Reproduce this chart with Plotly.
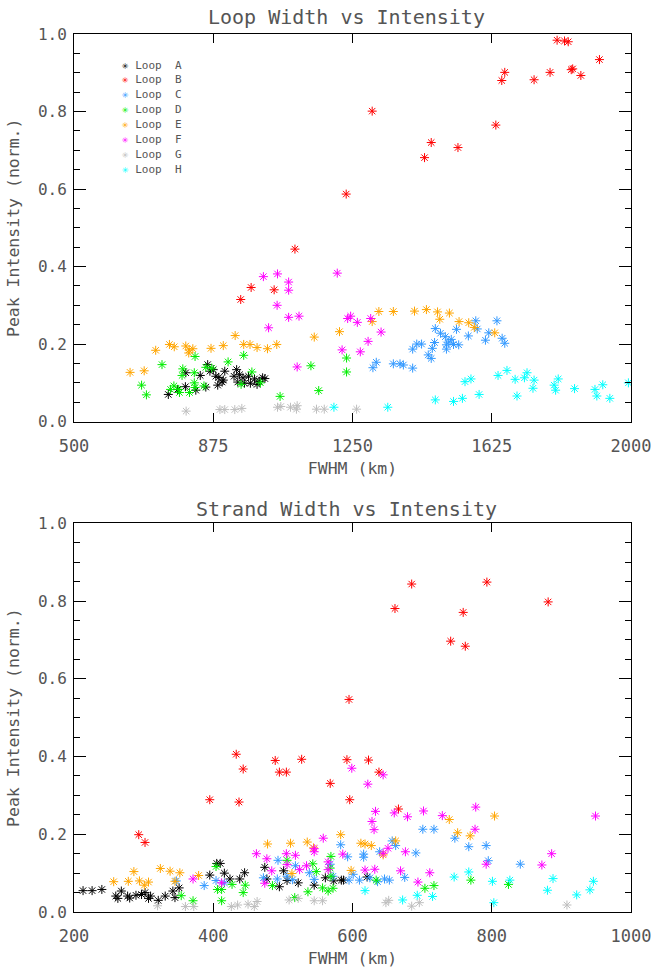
import plotly.graph_objects as go

loops = ["A", "B", "C", "D", "E", "F", "G", "H"]
colors = ["#000000", "#ff0000", "#3399ff", "#00ee00", "#ffa500", "#ff00ff", "#bebebe", "#00ffff"]

# ---- Top panel: Loop width (FWHM, km) vs peak intensity ----
loop_x = {
    "A": [754, 779, 800, 801, 828, 840, 855, 860, 866, 875, 882, 887, 890, 899, 902, 906, 931, 938, 941, 946, 955, 959, 970, 975, 986, 993, 999, 1008, 1014],
    "B": [949, 977, 1039, 1095, 1233, 1303, 1444, 1462, 1534, 1636, 1652, 1660, 1739, 1782, 1801, 1821, 1831, 1839, 1843, 1865, 1915],
    "C": [1305, 1314, 1360, 1378, 1387, 1412, 1412, 1423, 1436, 1454, 1462, 1465, 1471, 1473, 1487, 1500, 1503, 1503, 1509, 1516, 1522, 1530, 1536, 1562, 1582, 1586, 1608, 1617, 1639, 1653, 1660],
    "D": [682, 695, 737, 760, 769, 782, 784, 793, 791, 811, 824, 826, 824, 826, 850, 855, 871, 915, 957, 950, 979, 1002, 1055, 1138, 1159, 1234, 1234],
    "E": [651, 689, 720, 757, 770, 801, 820, 809, 810, 869, 902, 934, 957, 974, 993, 1021, 1046, 1147, 1215, 1303, 1321, 1360, 1417, 1449, 1479, 1485, 1511, 1537, 1563, 1578, 1633],
    "F": [1010, 1048, 1078, 1078, 1047, 1078, 1106, 1024, 1209, 1101, 1222, 1237, 1245, 1263, 1299, 1327, 1292, 1271],
    "G": [802, 893, 906, 933, 952, 1048, 1057, 1083, 1099, 1101, 1153, 1174, 1261],
    "H": [1200, 1345, 1473, 1522, 1546, 1553, 1569, 1591, 1642, 1666, 1688, 1693, 1713, 1720, 1739, 1736, 1793, 1797, 1804, 1848, 1903, 1908, 1924, 1943, 1993],
}
loop_y = {
    "A": [0.070, 0.083, 0.090, 0.126, 0.081, 0.119, 0.089, 0.147, 0.130, 0.134, 0.117, 0.094, 0.114, 0.102, 0.107, 0.130, 0.117, 0.134, 0.102, 0.121, 0.113, 0.099, 0.117, 0.099, 0.110, 0.096, 0.104, 0.113, 0.111],
    "B": [0.315, 0.346, 0.340, 0.445, 0.587, 0.801, 0.681, 0.720, 0.707, 0.765, 0.880, 0.901, 0.882, 0.901, 0.984, 0.982, 0.980, 0.908, 0.910, 0.893, 0.934],
    "C": [0.139, 0.153, 0.149, 0.149, 0.146, 0.138, 0.187, 0.200, 0.200, 0.172, 0.163, 0.189, 0.204, 0.240, 0.228, 0.219, 0.198, 0.187, 0.205, 0.212, 0.199, 0.238, 0.198, 0.221, 0.260, 0.239, 0.210, 0.229, 0.260, 0.215, 0.202],
    "D": [0.094, 0.069, 0.147, 0.083, 0.092, 0.083, 0.075, 0.136, 0.119, 0.075, 0.126, 0.168, 0.100, 0.088, 0.092, 0.140, 0.138, 0.154, 0.171, 0.096, 0.128, 0.100, 0.065, 0.144, 0.080, 0.164, 0.128],
    "E": [0.127, 0.131, 0.184, 0.199, 0.193, 0.195, 0.188, 0.177, 0.185, 0.189, 0.196, 0.222, 0.199, 0.199, 0.191, 0.188, 0.199, 0.218, 0.232, 0.258, 0.284, 0.284, 0.285, 0.289, 0.283, 0.264, 0.280, 0.258, 0.255, 0.243, 0.229],
    "F": [0.374, 0.381, 0.360, 0.339, 0.300, 0.269, 0.272, 0.242, 0.383, 0.141, 0.185, 0.266, 0.272, 0.256, 0.266, 0.231, 0.207, 0.180],
    "G": [0.027, 0.031, 0.031, 0.031, 0.034, 0.037, 0.039, 0.037, 0.032, 0.041, 0.032, 0.032, 0.032],
    "H": [0.037, 0.037, 0.056, 0.052, 0.060, 0.103, 0.110, 0.070, 0.119, 0.132, 0.109, 0.066, 0.113, 0.126, 0.107, 0.086, 0.094, 0.081, 0.110, 0.085, 0.083, 0.066, 0.095, 0.060, 0.100],
}

# ---- Bottom panel: Strand width (FWHM, km) vs peak intensity ----
strand_x = {
    "A": [213, 226, 240, 260, 263, 268, 277, 280, 289, 297, 302, 310, 307, 321, 331, 342, 351, 345, 395, 405, 410, 416, 424, 438, 445, 474, 477, 501, 495, 506, 522, 545, 561, 573, 587, 584, 621],
    "B": [293, 302, 395, 433, 437, 443, 489, 495, 505, 527, 568, 592, 595, 596, 623, 638, 666, 661, 685, 741, 759, 762, 793, 881],
    "C": [347, 387, 404, 416, 472, 492, 493, 506, 514, 518, 538, 545, 568, 572, 583, 593, 595, 601, 610, 616, 616, 625, 636, 639, 646, 653, 657, 662, 675, 691, 701, 717, 747, 767, 792, 795, 841],
    "D": [354, 371, 404, 406, 412, 412, 427, 446, 443, 485, 506, 517, 536, 543, 548, 557, 569, 568, 565, 572, 569, 634, 704, 717, 770, 824],
    "E": [257, 278, 286, 294, 301, 307, 324, 338, 345, 352, 379, 478, 511, 513, 535, 544, 583, 598, 612, 618, 627, 644, 662, 739, 751, 769, 804],
    "F": [371, 412, 462, 474, 477, 484, 505, 506, 518, 524, 534, 545, 545, 558, 565, 565, 586, 599, 618, 622, 628, 631, 632, 633, 644, 644, 651, 660, 669, 676, 679, 694, 702, 711, 729, 776, 777, 792, 872, 886, 949],
    "G": [320, 360, 372, 426, 435, 450, 459, 463, 509, 522, 545, 557, 648, 652, 685, 696, 908],
    "H": [618, 672, 693, 715, 746, 767, 801, 803, 826, 880, 888, 922, 941, 946],
}
strand_y = {
    "A": [0.055, 0.055, 0.058, 0.041, 0.035, 0.054, 0.041, 0.036, 0.043, 0.045, 0.050, 0.041, 0.035, 0.030, 0.041, 0.054, 0.062, 0.037, 0.095, 0.125, 0.125, 0.100, 0.085, 0.085, 0.101, 0.115, 0.085, 0.106, 0.065, 0.081, 0.075, 0.069, 0.088, 0.080, 0.082, 0.082, 0.090],
    "B": [0.199, 0.179, 0.289, 0.406, 0.283, 0.368, 0.390, 0.360, 0.360, 0.393, 0.331, 0.392, 0.547, 0.289, 0.391, 0.360, 0.265, 0.781, 0.844, 0.697, 0.771, 0.684, 0.849, 0.798],
    "C": [0.080, 0.068, 0.081, 0.075, 0.088, 0.085, 0.133, 0.092, 0.083, 0.119, 0.101, 0.084, 0.123, 0.092, 0.173, 0.142, 0.082, 0.097, 0.082, 0.149, 0.141, 0.088, 0.078, 0.155, 0.085, 0.082, 0.183, 0.171, 0.089, 0.152, 0.213, 0.213, 0.190, 0.168, 0.171, 0.132, 0.123],
    "D": [0.042, 0.029, 0.117, 0.058, 0.058, 0.029, 0.071, 0.069, 0.050, 0.068, 0.133, 0.037, 0.052, 0.124, 0.104, 0.062, 0.143, 0.113, 0.054, 0.061, 0.092, 0.082, 0.061, 0.068, 0.082, 0.071],
    "E": [0.078, 0.079, 0.104, 0.080, 0.069, 0.077, 0.112, 0.105, 0.079, 0.101, 0.094, 0.175, 0.177, 0.099, 0.180, 0.165, 0.199, 0.107, 0.177, 0.175, 0.171, 0.147, 0.183, 0.238, 0.204, 0.196, 0.247],
    "F": [0.085, 0.075, 0.150, 0.074, 0.137, 0.106, 0.150, 0.122, 0.146, 0.109, 0.119, 0.163, 0.155, 0.190, 0.129, 0.109, 0.149, 0.370, 0.108, 0.329, 0.233, 0.212, 0.110, 0.259, 0.353, 0.151, 0.164, 0.255, 0.106, 0.155, 0.245, 0.077, 0.260, 0.101, 0.248, 0.213, 0.270, 0.123, 0.121, 0.150, 0.247],
    "G": [0.016, 0.014, 0.014, 0.014, 0.018, 0.020, 0.014, 0.027, 0.031, 0.035, 0.029, 0.029, 0.024, 0.030, 0.015, 0.024, 0.018],
    "H": [0.055, 0.031, 0.043, 0.040, 0.090, 0.103, 0.079, 0.024, 0.082, 0.056, 0.086, 0.044, 0.057, 0.079],
}

top_xticks = [500, 875, 1250, 1625, 2000]
bot_xticks = [200, 400, 600, 800, 1000]
y_ticks = [0.0, 0.2, 0.4, 0.6, 0.8, 1.0]

FONT = "DejaVu Sans Mono"
TXT = "#555555"

fig = go.Figure()
for name, c in zip(loops, colors):
    mk = dict(symbol="asterisk-open", size=7.5, color=c, line=dict(width=1, color=c))
    fig.add_trace(go.Scatter(x=loop_x[name], y=loop_y[name], mode="markers", name="Loop " + name,
                             marker=mk, xaxis="x", yaxis="y", showlegend=False))
    fig.add_trace(go.Scatter(x=strand_x[name], y=strand_y[name], mode="markers", name="Loop " + name,
                             marker=mk, xaxis="x2", yaxis="y2", showlegend=False))

def xax(ticks, rng, anchor):
    return dict(range=rng, tickvals=ticks, ticktext=[str(t) for t in ticks], ticks="inside", ticklen=9,
                tickcolor="black", showline=True, linecolor="black", linewidth=1, mirror="ticks",
                showgrid=False, zeroline=False, anchor=anchor, ticklabelstandoff=9,
                tickfont=dict(family=FONT, size=17, color=TXT),
                title=dict(text="FWHM (km)", font=dict(family=FONT, size=16.5, color=TXT), standoff=7))

def yax(domain, anchor):
    return dict(range=[0, 1.0], domain=domain, tickvals=y_ticks, ticktext=["%.1f" % t for t in y_ticks],
                ticks="inside", ticklen=12, tickcolor="black", showline=True, linecolor="black",
                linewidth=1, mirror="ticks", showgrid=False, zeroline=False, anchor=anchor,
                ticklabelstandoff=3,
                minor=dict(dtick=0.05, ticks="inside", ticklen=6, tickcolor="black", showgrid=False),
                tickfont=dict(family=FONT, size=16, color=TXT),
                title=dict(text="Peak Intensity (norm.)", font=dict(family=FONT, size=16.5, color=TXT), standoff=14))

# plot frame in pixels: left 74, right 639, top 34, bottom 922 (top panel ends at 426, bottom starts 529)
W, H = 663, 977
L, R, T, B = 74, W - 639, 34, H - 922
ph = H - T - B
annotations = [
    dict(text="Loop Width vs Intensity", xref="x domain", yref="paper", x=0.49, y=(H - B - 17) / ph,
         showarrow=False, xanchor="center", yanchor="middle", font=dict(family=FONT, size=20, color=TXT)),
    dict(text="Strand Width vs Intensity", xref="x2 domain", yref="paper", x=0.49, y=(H - B - 514) / ph,
         showarrow=False, xanchor="center", yanchor="middle", font=dict(family=FONT, size=20, color=TXT)),
]
for i, (name, c) in enumerate(zip(loops, colors)):
    annotations.append(dict(
        text="<span style='color:%s'>\u2733</span> Loop\u00a0 %s" % (c, name),
        xref="x domain", yref="y domain", x=0.083, y=0.920 - i * 0.0384,
        showarrow=False, xanchor="left", yanchor="middle",
        font=dict(family=FONT, size=11, color=TXT)))

fig.update_layout(
    width=W, height=H,
    margin=dict(l=L, r=R, t=T, b=B),
    paper_bgcolor="white", plot_bgcolor="white",
    xaxis=xax(top_xticks, [500, 2000], "y"),
    yaxis=yax([(H - B - 426) / ph, 1.0], "x"),
    xaxis2=xax(bot_xticks, [200, 1000], "y2"),
    yaxis2=yax([0.0, (H - B - 529) / ph], "x2"),
    annotations=annotations,
    showlegend=False,
)

fig.write_html("out.html")
